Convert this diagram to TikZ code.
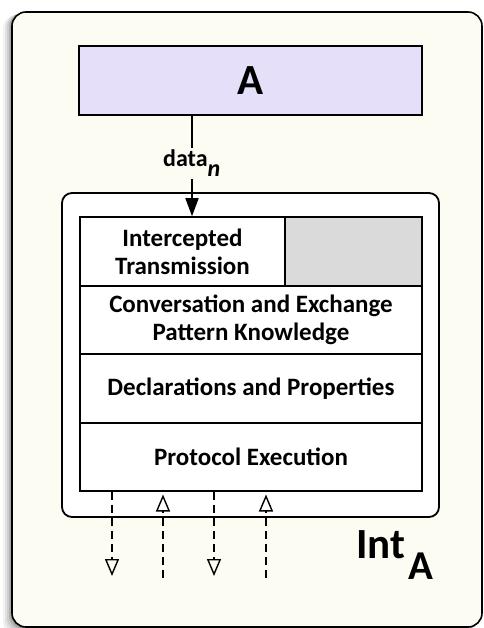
\documentclass[tikz,border=0pt]{standalone}
\usepackage{fontspec}
\setmainfont{Carlito}
\usetikzlibrary{arrows.meta}
\definecolor{panelcream}{HTML}{FCFCF2}
\definecolor{agentlav}{HTML}{E5DFFA}
\definecolor{cellgray}{HTML}{DADADA}
\tikzset{
  panel/.style={draw=black, line width=1.6pt, rounded corners=14pt, fill=panelcream},
  intbox/.style={draw=black, line width=1.8pt, rounded corners=10pt, fill=white},
  cell/.style={draw=black, line width=1.5pt, fill=white, inner sep=0pt, align=center,
    font=\fontsize{25}{28}\selectfont\bfseries},
  flow/.style={draw=black, line width=1.6pt, -{Triangle[length=18pt, width=13pt]}},
  msg/.style={draw=black, line width=1.5pt, dash pattern=on 8pt off 5pt,
    -{Triangle[open, length=17pt, width=14pt, line width=1.4pt]}}
}
\begin{document}
\begin{tikzpicture}[x=1pt, y=-1pt]
\useasboundingbox (0,0) rectangle (483,628);
% soft shadow along the left of the panel
\foreach \o/\op in {9/0.05, 7/0.07, 5/0.09, 3/0.12, 1.5/0.15}
  \fill[black, opacity=\op, rounded corners=14pt] (12-\o,12+0.3*\o) rectangle (482-\o,627+\o);
% outer panel
\node[panel, minimum width=470pt, minimum height=615pt, inner sep=0pt] (panel) at (247,319.5) {};
% agent A
\node[draw=black, line width=1.6pt, fill=agentlav, minimum width=343pt, minimum height=69pt,
  inner sep=0pt, font=\fontsize{43}{43}\selectfont\bfseries] (A) at (250.5,80.5) {A};
% interceptor frame
\node[intbox, minimum width=377pt, minimum height=324pt, inner sep=0pt] (frame) at (250.5,355) {};
% layer stack
\node[cell, minimum width=205pt, minimum height=69pt] (ic) at (182.5,251.5) {Intercepted\\Transmission};
\node[cell, fill=cellgray, minimum width=137pt, minimum height=69pt] (gray) at (353.5,251.5) {};
\node[cell, minimum width=342pt, minimum height=68pt] (conv) at (251,320) {Conversation and Exchange\\Pattern Knowledge};
\node[cell, minimum width=342pt, minimum height=69pt] (decl) at (251,388.5) {Declarations and Properties};
\node[cell, minimum width=342pt, minimum height=68pt] (proto) at (251,457) {Protocol Execution};
% data flow from A into the stack
\coordinate (tap) at (192,0);
\draw[flow] (A.south -| tap) -- (ic.north -| tap);
\node[fill=panelcream, inner sep=2pt, anchor=base west, font=\fontsize{24}{28}\selectfont\bfseries]
  (data) at (161,167) {data\raisebox{-10pt}{\textit{n}}};
% outgoing and incoming messages
\coordinate (o1) at (112,576);
\coordinate (i1) at (163,578);
\coordinate (o2) at (214,576);
\coordinate (i2) at (266,578);
\coordinate (ie) at (0,494.5);
\draw[msg] (proto.south -| o1) -- (o1);
\draw[msg] (i1) -- (ie -| i1);
\draw[msg] (proto.south -| o2) -- (o2);
\draw[msg] (i2) -- (ie -| i2);
% interceptor label
\node[anchor=base west, inner sep=0pt, font=\fontsize{43}{43}\selectfont\bfseries] (label) at (356,558)
  {Int\hspace{3pt}\raisebox{-21pt}{\fontsize{41}{41}\selectfont A}};
\end{tikzpicture}
\end{document}
